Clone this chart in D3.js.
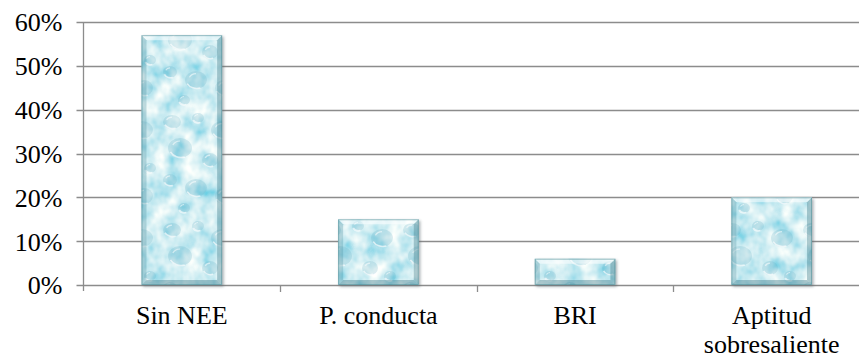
<!DOCTYPE html>
<html>
<head>
<meta charset="utf-8">
<script src="https://cdn.jsdelivr.net/npm/d3@7"></script>
<style>
  html, body { margin: 0; padding: 0; background: #fff; }
  svg { display: block; }
</style>
</head>
<body>
<svg id="chart" width="859" height="358"></svg>
<script>
// Category labels (line breaks with "\n") and their shares
const categories = ["Sin NEE", "P. conducta", "BRI", "Aptitud\nsobresaliente"];
const values = [0.57, 0.15, 0.06, 0.20];
const yTicks = [0, 0.1, 0.2, 0.3, 0.4, 0.5, 0.6];

const W = 859, H = 358;
const plot = { left: 83.5, right: 870, top: 22, bottom: 285 };
const FONT = '"Liberation Serif"';
const FS = 26;

const svg = d3.select("#chart");

const x = d3.scaleBand().domain(categories).range([plot.left, plot.right]).padding(0);
const xBar = d3.scaleBand().domain(categories).range([plot.left, plot.right])
  .paddingInner(0.59).paddingOuter(0.295);
const y = d3.scaleLinear().domain([0, 0.6]).range([plot.bottom, plot.top]);

const defs = svg.append("defs");

// Mottled water texture for the bars
const water = defs.append("filter").attr("id", "water")
  .attr("x", 0).attr("y", 0).attr("width", 1).attr("height", 1);
water.append("feTurbulence").attr("type", "fractalNoise")
  .attr("baseFrequency", "0.06 0.05").attr("numOctaves", 3).attr("seed", 7).attr("result", "noise");
water.append("feColorMatrix").attr("in", "noise").attr("type", "matrix")
  .attr("values", "1.2 0 0 0 0.02  0.55 0 0 0 0.57  0.3 0 0 0 0.74  0 0 0 0 1")
  .attr("result", "tint");
water.append("feComposite").attr("in", "tint").attr("in2", "SourceGraphic").attr("operator", "in");

// Droplet pattern laid over the texture
const drops = [
  [12, 14, 9, 7], [38, 10, 6, 5], [62, 22, 11, 9], [20, 40, 12, 10], [50, 52, 8, 7],
  [70, 60, 6, 5], [10, 72, 7, 6], [36, 80, 11, 9], [64, 88, 9, 8], [24, 100, 6, 5]
];
const pat = defs.append("pattern").attr("id", "drops").attr("patternUnits", "userSpaceOnUse")
  .attr("width", 80).attr("height", 108);
drops.forEach(([cx, cy, rx, ry]) => {
  pat.append("ellipse").attr("cx", cx).attr("cy", cy).attr("rx", rx).attr("ry", ry)
    .attr("fill", "rgba(90,170,190,0.22)");
  pat.append("path")
    .attr("d", `M${cx - rx * 0.8},${cy + ry * 0.4} A${rx},${ry} 0 0 0 ${cx + rx * 0.4},${cy + ry * 0.9}`)
    .attr("fill", "none").attr("stroke", "rgba(255,255,255,0.65)").attr("stroke-width", 1.6);
  pat.append("path")
    .attr("d", `M${cx - rx * 0.6},${cy - ry * 0.3} A${rx * 0.7},${ry * 0.7} 0 0 1 ${cx},${cy - ry * 0.7}`)
    .attr("fill", "none").attr("stroke", "rgba(255,255,255,0.55)").attr("stroke-width", 1.2);
});

// Soft shadow under each bar
const shadow = defs.append("filter").attr("id", "shadow")
  .attr("x", "-20%").attr("y", "-20%").attr("width", "140%").attr("height", "140%");
shadow.append("feGaussianBlur").attr("stdDeviation", 1.4);

// Horizontal gridlines with y ticks
const gridColor = "#8c8c8c";
svg.append("g").selectAll("line").data(yTicks).join("line")
  .attr("x1", plot.left - 7).attr("x2", W)
  .attr("y1", d => Math.round(y(d)) + 0.5).attr("y2", d => Math.round(y(d)) + 0.5)
  .attr("stroke", gridColor).attr("stroke-width", 1.3);

// Y axis
const yAxis = d3.axisLeft(y).tickValues(yTicks).tickFormat(d3.format(".0%")).tickSize(0).tickPadding(21);
const gy = svg.append("g").attr("transform", `translate(${plot.left},0)`).call(yAxis);
gy.select(".domain").remove();
gy.selectAll("text").attr("dy", "0.34em")
  .style("font-family", FONT).style("font-size", FS + "px").style("fill", "#000");
svg.append("line")
  .attr("x1", plot.left).attr("x2", plot.left)
  .attr("y1", plot.top).attr("y2", plot.bottom + 6)
  .attr("stroke", gridColor).attr("stroke-width", 1.3);

// X ticks at category boundaries
const bounds = categories.slice(1).map(c => x(c));
svg.append("g").selectAll("line").data(bounds).join("line")
  .attr("x1", d => Math.round(d) + 0.5).attr("x2", d => Math.round(d) + 0.5)
  .attr("y1", plot.bottom).attr("y2", plot.bottom + 7)
  .attr("stroke", gridColor).attr("stroke-width", 1.3);

// Bars
const bars = svg.append("g").selectAll("g").data(categories).join("g");
const bevel = 5;
bars.each(function (c, i) {
  const g = d3.select(this);
  const x0 = xBar(c), w = xBar.bandwidth();
  const y0 = y(values[i]), h = plot.bottom - y0;
  g.append("rect").attr("x", x0 + 1.5).attr("y", y0 + 1.5).attr("width", w).attr("height", h)
    .attr("fill", "#5b6a70").attr("opacity", 0.55).attr("filter", "url(#shadow)");
  g.append("rect").attr("x", x0).attr("y", y0).attr("width", w).attr("height", h)
    .attr("fill", "#fff").attr("filter", "url(#water)");
  g.append("rect").attr("x", x0).attr("y", y0).attr("width", w).attr("height", h)
    .attr("fill", "url(#drops)");
  const b = Math.min(bevel, h / 2);
  const x1 = x0 + w, y1 = y0 + h;
  const faces = [
    { pts: [[x0, y0], [x1, y0], [x1 - b, y0 + b], [x0 + b, y0 + b]], fill: "rgba(255,255,255,0.55)" },
    { pts: [[x0, y0], [x0 + b, y0 + b], [x0 + b, y1 - b], [x0, y1]], fill: "rgba(70,140,155,0.30)" },
    { pts: [[x1, y0], [x1, y1], [x1 - b, y1 - b], [x1 - b, y0 + b]], fill: "rgba(60,120,135,0.38)" },
    { pts: [[x0, y1], [x0 + b, y1 - b], [x1 - b, y1 - b], [x1, y1]], fill: "rgba(60,120,135,0.40)" }
  ];
  g.selectAll("polygon").data(faces).join("polygon")
    .attr("points", d => d.pts.map(p => p.join(",")).join(" "))
    .attr("fill", d => d.fill);
  g.append("rect").attr("x", x0 + 0.5).attr("y", y0 + 0.5).attr("width", w - 1).attr("height", h - 1)
    .attr("fill", "none").attr("stroke", "rgba(80,140,150,0.55)").attr("stroke-width", 1);
});

// Category labels
const labels = svg.append("g").selectAll("text").data(categories).join("text")
  .attr("x", c => x(c) + x.bandwidth() / 2)
  .attr("y", 324)
  .attr("text-anchor", "middle")
  .style("font-family", FONT).style("font-size", FS + "px").style("fill", "#000");
labels.each(function (c) {
  const t = d3.select(this);
  c.split("\n").forEach((line, k) => {
    t.append("tspan").attr("x", t.attr("x")).attr("dy", k === 0 ? 0 : 29).text(line);
  });
});
</script>
</body>
</html>
